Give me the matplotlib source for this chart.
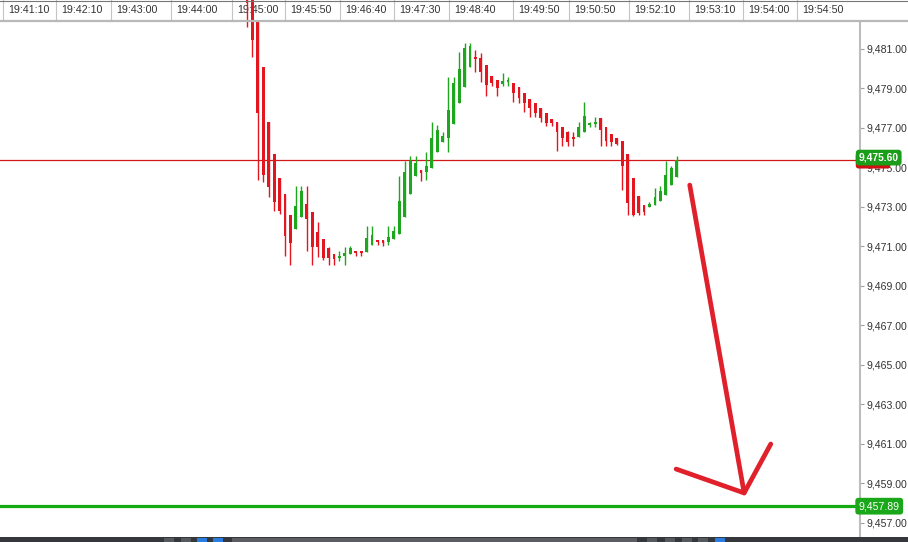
import numpy as np
import matplotlib
matplotlib.use('Agg')
import matplotlib.pyplot as plt
from matplotlib.lines import Line2D
from matplotlib.patches import Rectangle
from matplotlib.ticker import FuncFormatter, FixedLocator
from matplotlib.transforms import blended_transform_factory

plt.rcParams['font.family'] = ['Liberation Sans', 'DejaVu Sans']

# candle data (one candle per slot)
opens = [9484.00, 9483.70, 9482.47, 9480.09, 9477.30, 9475.68, 9474.47, 9473.66, 9472.60, 9471.89,
         9472.49, 9473.15, 9472.75, 9471.73, 9471.38, 9470.92, 9470.62, 9470.42, 9470.52, 9470.62,
         9470.72, 9470.72, 9470.72, 9471.08, 9471.33, 9471.33, 9471.23, 9471.38, 9471.63, 9472.49,
         9473.66, 9474.57, 9474.87, 9474.77, 9474.98, 9475.79, 9476.29, 9476.49, 9477.20, 9478.27,
         9479.08, 9480.09, 9480.60, 9480.54, 9480.19, 9479.63, 9479.43, 9479.23, 9479.33, 9479.28,
         9479.08, 9478.77, 9478.47, 9478.27, 9478.01, 9477.76, 9477.46, 9477.30, 9477.05, 9476.80,
         9476.54, 9476.54, 9476.80, 9477.15, 9477.20, 9477.51, 9477.05, 9476.70, 9476.49, 9476.34,
         9475.68, 9474.47, 9473.56, 9473.10, 9473.00, 9473.10, 9473.30, 9473.61, 9474.11, 9474.52]
highs = [9484.00, 9483.80, 9482.47, 9480.09, 9477.30, 9475.68, 9474.47, 9473.66, 9472.60, 9474.06,
         9474.06, 9474.06, 9472.75, 9472.24, 9471.38, 9470.98, 9470.62, 9470.77, 9470.98, 9471.03,
         9470.72, 9470.72, 9472.04, 9472.04, 9471.33, 9471.33, 9472.04, 9472.04, 9474.57, 9475.33,
         9475.58, 9475.58, 9474.87, 9475.78, 9477.30, 9477.15, 9476.80, 9479.58, 9479.58, 9480.85,
         9481.30, 9481.30, 9480.95, 9480.80, 9480.19, 9479.63, 9479.43, 9479.79, 9479.58, 9479.28,
         9479.08, 9478.77, 9478.47, 9478.27, 9478.01, 9477.76, 9477.46, 9477.30, 9477.05, 9476.85,
         9476.80, 9477.30, 9478.32, 9477.30, 9477.56, 9477.51, 9477.05, 9476.70, 9476.49, 9476.34,
         9475.68, 9474.47, 9473.56, 9473.10, 9473.25, 9473.96, 9474.06, 9475.33, 9475.08, 9475.58]
lows = [9482.11, 9480.60, 9474.37, 9474.27, 9473.51, 9472.80, 9472.65, 9470.52, 9470.06, 9471.89,
        9472.49, 9470.77, 9470.06, 9470.47, 9470.32, 9470.06, 9470.06, 9470.27, 9470.06, 9470.62,
        9470.52, 9470.52, 9470.72, 9471.08, 9471.08, 9471.03, 9471.08, 9471.38, 9471.63, 9472.49,
        9473.66, 9474.57, 9474.32, 9474.37, 9474.98, 9475.79, 9476.29, 9475.78, 9477.20, 9478.27,
        9479.08, 9480.09, 9479.84, 9479.33, 9478.62, 9479.13, 9478.62, 9479.13, 9479.13, 9478.32,
        9478.27, 9477.81, 9477.56, 9477.56, 9477.30, 9477.10, 9477.10, 9475.83, 9476.09, 9476.09,
        9476.09, 9476.54, 9476.80, 9477.05, 9477.05, 9476.09, 9476.09, 9476.09, 9476.14, 9473.86,
        9472.60, 9472.55, 9472.60, 9472.60, 9473.00, 9473.10, 9473.30, 9473.61, 9474.11, 9474.52]
closes = [9483.33, 9481.46, 9477.76, 9474.62, 9474.01, 9473.25, 9472.80, 9471.53, 9471.18, 9473.05,
          9473.81, 9472.39, 9470.98, 9470.98, 9470.42, 9470.42, 9470.37, 9470.52, 9470.67, 9470.92,
          9470.67, 9470.65, 9471.43, 9471.58, 9471.23, 9471.20, 9471.48, 9471.79, 9473.30, 9474.77,
          9475.33, 9475.23, 9474.72, 9475.08, 9476.49, 9476.90, 9476.60, 9477.91, 9479.28, 9479.99,
          9481.05, 9481.15, 9480.49, 9479.84, 9479.18, 9479.28, 9479.03, 9479.38, 9479.38, 9478.77,
          9478.52, 9478.27, 9478.01, 9477.76, 9477.51, 9477.25, 9477.25, 9476.80, 9476.49, 9476.29,
          9476.44, 9477.05, 9477.61, 9477.25, 9477.30, 9476.90, 9476.34, 9476.29, 9476.19, 9475.08,
          9473.20, 9472.60, 9472.70, 9472.75, 9473.15, 9473.51, 9473.81, 9474.62, 9474.98, 9475.38]

last_price = 9475.38
last_label = '9,475.60'
target_price = 9457.85
target_label = '9,457.89'

# time header (slot position of each divider)
time_labels = ['19:41:10', '19:42:10', '19:43:00', '19:44:00', '19:45:00', '19:45:50', '19:46:40',
               '19:47:30', '19:48:40', '19:49:50', '19:50:50', '19:52:10', '19:53:10', '19:54:00',
               '19:54:50']
time_pos = [-44.9, -35.1, -25.0, -14.0, -2.8, 7.0, 17.1, 27.0, 37.1, 48.9, 59.2, 70.2, 81.3, 91.2, 101.1]

price_ticks = np.arange(9457, 9482, 2)

# hand drawn arrow (slot, price)
arrow_x = [81.4, 91.4]
arrow_y = [9474.11, 9458.52]
head_x = [78.9, 91.4, 96.3]
head_y = [9459.73, 9458.52, 9461.00]

RED = '#e3161f'
GREEN = '#1ea61e'

W, H = 908, 542
fig = plt.figure(figsize=(W / 100, H / 100), dpi=100)
ax = fig.add_axes([0, 5 / H, 860 / W, 537 / H])
ax.set_xlim(-45.4, 112.7)
ax.set_ylim(9456.29, 9483.48)

# candles
x = np.arange(len(opens))
for i in x:
    o, h, l, c = opens[i], highs[i], lows[i], closes[i]
    col = GREEN if c >= o else RED
    ax.vlines(i, l, h, color=col, lw=1, zorder=4)
    bot = min(o, c)
    ht = max(abs(c - o), 0.1)
    ax.bar(i, ht, width=0.52, bottom=bot, color=col, lw=0, zorder=5)

# price lines
ax.axhline(last_price, color='#d01818', lw=0.9, zorder=3)
ax.axhline(target_price, color='#14aa14', lw=2.3, zorder=3)

# arrow
ax.plot(arrow_x, arrow_y, color='#e0202a', lw=3.4, solid_capstyle='round', zorder=6)
ax.plot(head_x, head_y, color='#e0202a', lw=3.4, solid_capstyle='round',
        solid_joinstyle='round', zorder=6)

# header band
hb = 1 - 21 / 537
trans = blended_transform_factory(ax.transData, ax.transAxes)
for p, lab in zip(time_pos, time_labels):
    ax.plot([p, p], [hb, 1], transform=trans, color='#c4c4c4', lw=0.8, zorder=1, clip_on=False)
    ax.annotate(lab, (p, 1 - 10 / 537), xycoords=trans, xytext=(3.6, 0),
                textcoords='offset points', ha='left', va='center', fontsize=7.7,
                color='#333333', zorder=1)
fig.add_artist(Line2D([0, 1], [1 - 21 / H, 1 - 21 / H], transform=fig.transFigure,
                      color='#b8b8b8', lw=1.6))
fig.add_artist(Line2D([0, 1], [1 - 0.5 / H, 1 - 0.5 / H], transform=fig.transFigure,
                      color='#777777', lw=0.8))

# right price axis
for s in ['left', 'top', 'bottom']:
    ax.spines[s].set_visible(False)
ax.spines['right'].set_color('#bdbdbd')
ax.spines['right'].set_linewidth(1.5)
ax.spines['right'].set_bounds(9456.29, 9482.40)
ax.set_xticks([])
ax.yaxis.tick_right()
ax.yaxis.set_major_locator(FixedLocator(price_ticks))
ax.yaxis.set_major_formatter(FuncFormatter(lambda v, p: f'{v:,.2f}'))
ax.tick_params(axis='y', length=3, width=0.8, color='#a0a0a0', labelsize=7.6,
               labelcolor='#333333', pad=1.5)

# price tags
ytr = blended_transform_factory(ax.transAxes, ax.transData)
ax.text(0.9985, last_price - 0.03, '          ', transform=ytr, ha='left', va='center',
        fontsize=7.6, clip_on=False, zorder=7,
        bbox=dict(boxstyle='round,pad=0.28,rounding_size=0.3', fc='#d01010', ec='none'))
ax.text(0.9985, last_price + 0.12, last_label, transform=ytr, ha='left', va='center',
        fontsize=7.4, fontweight='bold', color='white', clip_on=False, zorder=8,
        bbox=dict(boxstyle='round,pad=0.28,rounding_size=0.3', fc='#1a9e1a', ec='none'))
ax.text(0.9985, target_price, target_label, transform=ytr, ha='left', va='center',
        fontsize=7.6, color='white', clip_on=False, zorder=8,
        bbox=dict(boxstyle='round,pad=0.32,rounding_size=0.3', fc='#1aa81a', ec='none'))

# bottom toolbar strip
fig.add_artist(Rectangle((0, 0), 1, 5 / H, transform=fig.transFigure, color='#34383c', lw=0))
fig.add_artist(Rectangle((232 / W, 0), 405 / W, 4 / H, transform=fig.transFigure,
                         color='#5a5e62', lw=0))
for bx, bc in [(164, '#555a5e'), (181, '#555a5e'), (197, '#2a7de1'), (213, '#2a7de1'),
               (647, '#555a5e'), (665, '#555a5e'), (682, '#555a5e'), (698, '#555a5e'),
               (715, '#2a7de1')]:
    fig.add_artist(Rectangle((bx / W, 0), 10 / W, 4 / H, transform=fig.transFigure,
                             color=bc, lw=0))

fig.savefig('out.png', dpi=100, facecolor='white')
